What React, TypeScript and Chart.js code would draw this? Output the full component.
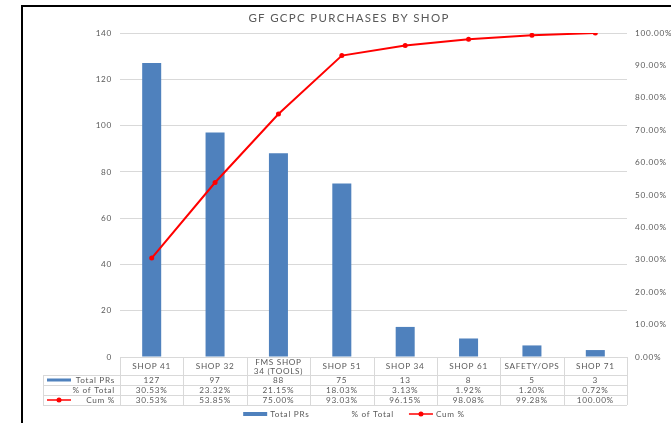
import React, { useEffect, useRef } from "react";
import { Chart, registerables } from "chart.js";

Chart.register(...registerables);

const TITLE = "GF GCPC PURCHASES BY SHOP";
const categories: (string | string[])[] = [
  "SHOP 41",
  "SHOP 32",
  ["FMS SHOP", "34 (TOOLS)"],
  "SHOP 51",
  "SHOP 34",
  "SHOP 61",
  "SAFETY/OPS",
  "SHOP 71",
];
const seriesNames = ["Total PRs", "% of Total", "Cum %"];
const totalPRs = [127, 97, 88, 75, 13, 8, 5, 3];
const pctOfTotal = [30.53, 23.32, 21.15, 18.03, 3.13, 1.92, 1.2, 0.72];
const cumPct = [30.53, 53.85, 75.0, 93.03, 96.15, 98.08, 99.28, 100.0];
const leftAxisMax = 140;
const leftAxisStep = 20;
const rightAxisMax = 100;
const rightAxisStep = 10;

const FONT = "Lato, 'Open Sans', sans-serif";
const TXT = "#595959";
const GRID = "#d9d9d9";
const BLUE = "#4f81bd";
const RED = "#ff0000";
const TICK_SIZE = 8.2;
const TRACK = "0.7px";

const fmtPct = (v: number) => v.toFixed(2) + "%";

const spacingPlugin = {
  id: "letterSpacing",
  beforeDraw(chart: any) {
    chart.ctx.letterSpacing = TRACK;
  },
};

const tablePlugin = {
  id: "dataTable",
  afterDraw(chart: any) {
    const { ctx, chartArea, scales, width } = chart;
    const x = scales.x;
    const n = categories.length;
    const colW = (x.right - x.left) / n;
    const top = chartArea.bottom;
    const headerB = top + 18;
    const rowH = 10;
    const tableLeft = 43;
    const right = x.right;
    ctx.save();

    // title
    ctx.letterSpacing = "1.3px";
    ctx.font = `11.5px ${FONT}`;
    ctx.fillStyle = TXT;
    ctx.textAlign = "center";
    ctx.textBaseline = "middle";
    ctx.fillText(TITLE, width / 2, 18);
    ctx.letterSpacing = TRACK;

    ctx.strokeStyle = GRID;
    ctx.lineWidth = 1;
    ctx.beginPath();
    ctx.moveTo(x.left, top + 0.5);
    ctx.lineTo(right, top + 0.5);
    for (let r = 0; r <= 3; r++) {
      const yy = Math.round(headerB + r * rowH) + 0.5;
      ctx.moveTo(tableLeft, yy);
      ctx.lineTo(right, yy);
    }
    ctx.moveTo(tableLeft + 0.5, headerB);
    ctx.lineTo(tableLeft + 0.5, headerB + 3 * rowH);
    for (let i = 0; i <= n; i++) {
      const xx = Math.round(x.left + i * colW) + 0.5;
      ctx.moveTo(xx, top);
      ctx.lineTo(xx, headerB + 3 * rowH);
    }
    ctx.stroke();

    ctx.font = `${TICK_SIZE}px ${FONT}`;
    ctx.fillStyle = TXT;
    ctx.textBaseline = "middle";

    // category labels in header row
    ctx.textAlign = "center";
    const lh = 9;
    const hc = top + 9.5;
    categories.forEach((c, i) => {
      const lines = Array.isArray(c) ? c : [c];
      const y0 = hc - ((lines.length - 1) * lh) / 2;
      lines.forEach((ln, k) => ctx.fillText(ln, x.getPixelForValue(i), y0 + k * lh));
    });

    const rows = [
      totalPRs.map((v) => String(v)),
      pctOfTotal.map(fmtPct),
      cumPct.map(fmtPct),
    ];
    rows.forEach((vals, r) => {
      const yy = headerB + r * rowH + rowH / 2;
      ctx.textAlign = "center";
      vals.forEach((s, i) => {
        ctx.fillText(s, x.getPixelForValue(i), yy);
      });
      ctx.textAlign = "right";
      ctx.fillText(seriesNames[r], x.left - 5, yy);
    });
    const keyX = 47;
    const keyW = 24;
    ctx.fillStyle = BLUE;
    ctx.fillRect(keyX, headerB + rowH / 2 - 1.5, keyW, 3);
    const cy = headerB + 2 * rowH + rowH / 2;
    ctx.strokeStyle = RED;
    ctx.lineWidth = 1.5;
    ctx.beginPath();
    ctx.moveTo(keyX, cy);
    ctx.lineTo(keyX + keyW, cy);
    ctx.stroke();
    ctx.fillStyle = RED;
    ctx.beginPath();
    ctx.arc(keyX + keyW / 2, cy, 2.5, 0, Math.PI * 2);
    ctx.fill();

    // bottom legend
    const ly = 414;
    const gap = 3;
    const spacing = 15;
    const widths = seriesNames.map((s) => keyW + gap + ctx.measureText(s).width);
    const total = widths.reduce((a, b) => a + b, 0) + spacing * (widths.length - 1);
    let lx = 354 - total / 2;
    ctx.textAlign = "left";
    seriesNames.forEach((s, i) => {
      if (i === 0) {
        ctx.fillStyle = BLUE;
        ctx.fillRect(lx, ly - 2, keyW, 4);
      } else if (i === 2) {
        ctx.strokeStyle = RED;
        ctx.lineWidth = 1.5;
        ctx.beginPath();
        ctx.moveTo(lx, ly);
        ctx.lineTo(lx + keyW, ly);
        ctx.stroke();
        ctx.fillStyle = RED;
        ctx.beginPath();
        ctx.arc(lx + keyW / 2, ly, 2.5, 0, Math.PI * 2);
        ctx.fill();
      }
      ctx.fillStyle = TXT;
      ctx.fillText(s, lx + keyW + gap, ly);
      lx += widths[i] + spacing;
    });
    ctx.restore();
    ctx.letterSpacing = "0px";
  },
};

export default function App() {
  const ref = useRef<HTMLCanvasElement | null>(null);
  useEffect(() => {
    if (!ref.current) return;
    const chart = new Chart(ref.current, {
      type: "bar",
      data: {
        labels: categories,
        datasets: [
          {
            type: "bar",
            label: seriesNames[0],
            data: totalPRs,
            backgroundColor: BLUE,
            yAxisID: "y",
            barPercentage: 0.3,
            categoryPercentage: 1,
            order: 2,
          },
          {
            type: "line",
            label: seriesNames[2],
            data: cumPct,
            borderColor: RED,
            backgroundColor: RED,
            borderWidth: 2,
            pointRadius: 2.5,
            pointBorderWidth: 0,
            pointBackgroundColor: RED,
            yAxisID: "y1",
            order: 1,
            tension: 0,
          } as any,
        ],
      },
      options: {
        responsive: true,
        maintainAspectRatio: false,
        animation: false,
        layout: { padding: { top: 33, left: 0, right: 0, bottom: 0 } },
        plugins: {
          legend: { display: false },
          tooltip: { enabled: false },
          title: { display: false },
        },
        scales: {
          x: {
            offset: true,
            grid: { display: false },
            border: { display: false },
            ticks: { display: false },
            afterFit: (s: any) => {
              s.height = 66;
            },
          },
          y: {
            position: "left",
            min: 0,
            max: leftAxisMax,
            ticks: {
              stepSize: leftAxisStep,
              padding: 8,
              color: TXT,
              font: { family: FONT, size: TICK_SIZE },
            },
            grid: { color: GRID, drawTicks: false },
            border: { display: false },
            afterFit: (s: any) => {
              s.width = 120;
            },
          },
          y1: {
            position: "right",
            min: 0,
            max: rightAxisMax,
            ticks: {
              stepSize: rightAxisStep,
              padding: 8,
              color: TXT,
              font: { family: FONT, size: TICK_SIZE },
              callback: (v: any) => fmtPct(Number(v)),
            },
            grid: { display: false, drawTicks: false },
            border: { display: false },
            afterFit: (s: any) => {
              s.width = 71;
            },
          },
        },
      } as any,
      plugins: [spacingPlugin, tablePlugin],
    });
    return () => chart.destroy();
  }, []);

  return (
    <div
      style={{
        position: "fixed",
        left: 0,
        top: 0,
        width: 671,
        height: 423,
        overflow: "hidden",
        background: "#fff",
      }}
    >
      <div style={{ position: "absolute", left: 0, top: 0, width: 698, height: 423 }}>
        <canvas ref={ref} />
      </div>
      <div
        style={{
          position: "absolute",
          left: 21,
          top: 5,
          width: 700,
          height: 430,
          borderLeft: "2px solid #000",
          borderTop: "2px solid #000",
          pointerEvents: "none",
        }}
      />
    </div>
  );
}
